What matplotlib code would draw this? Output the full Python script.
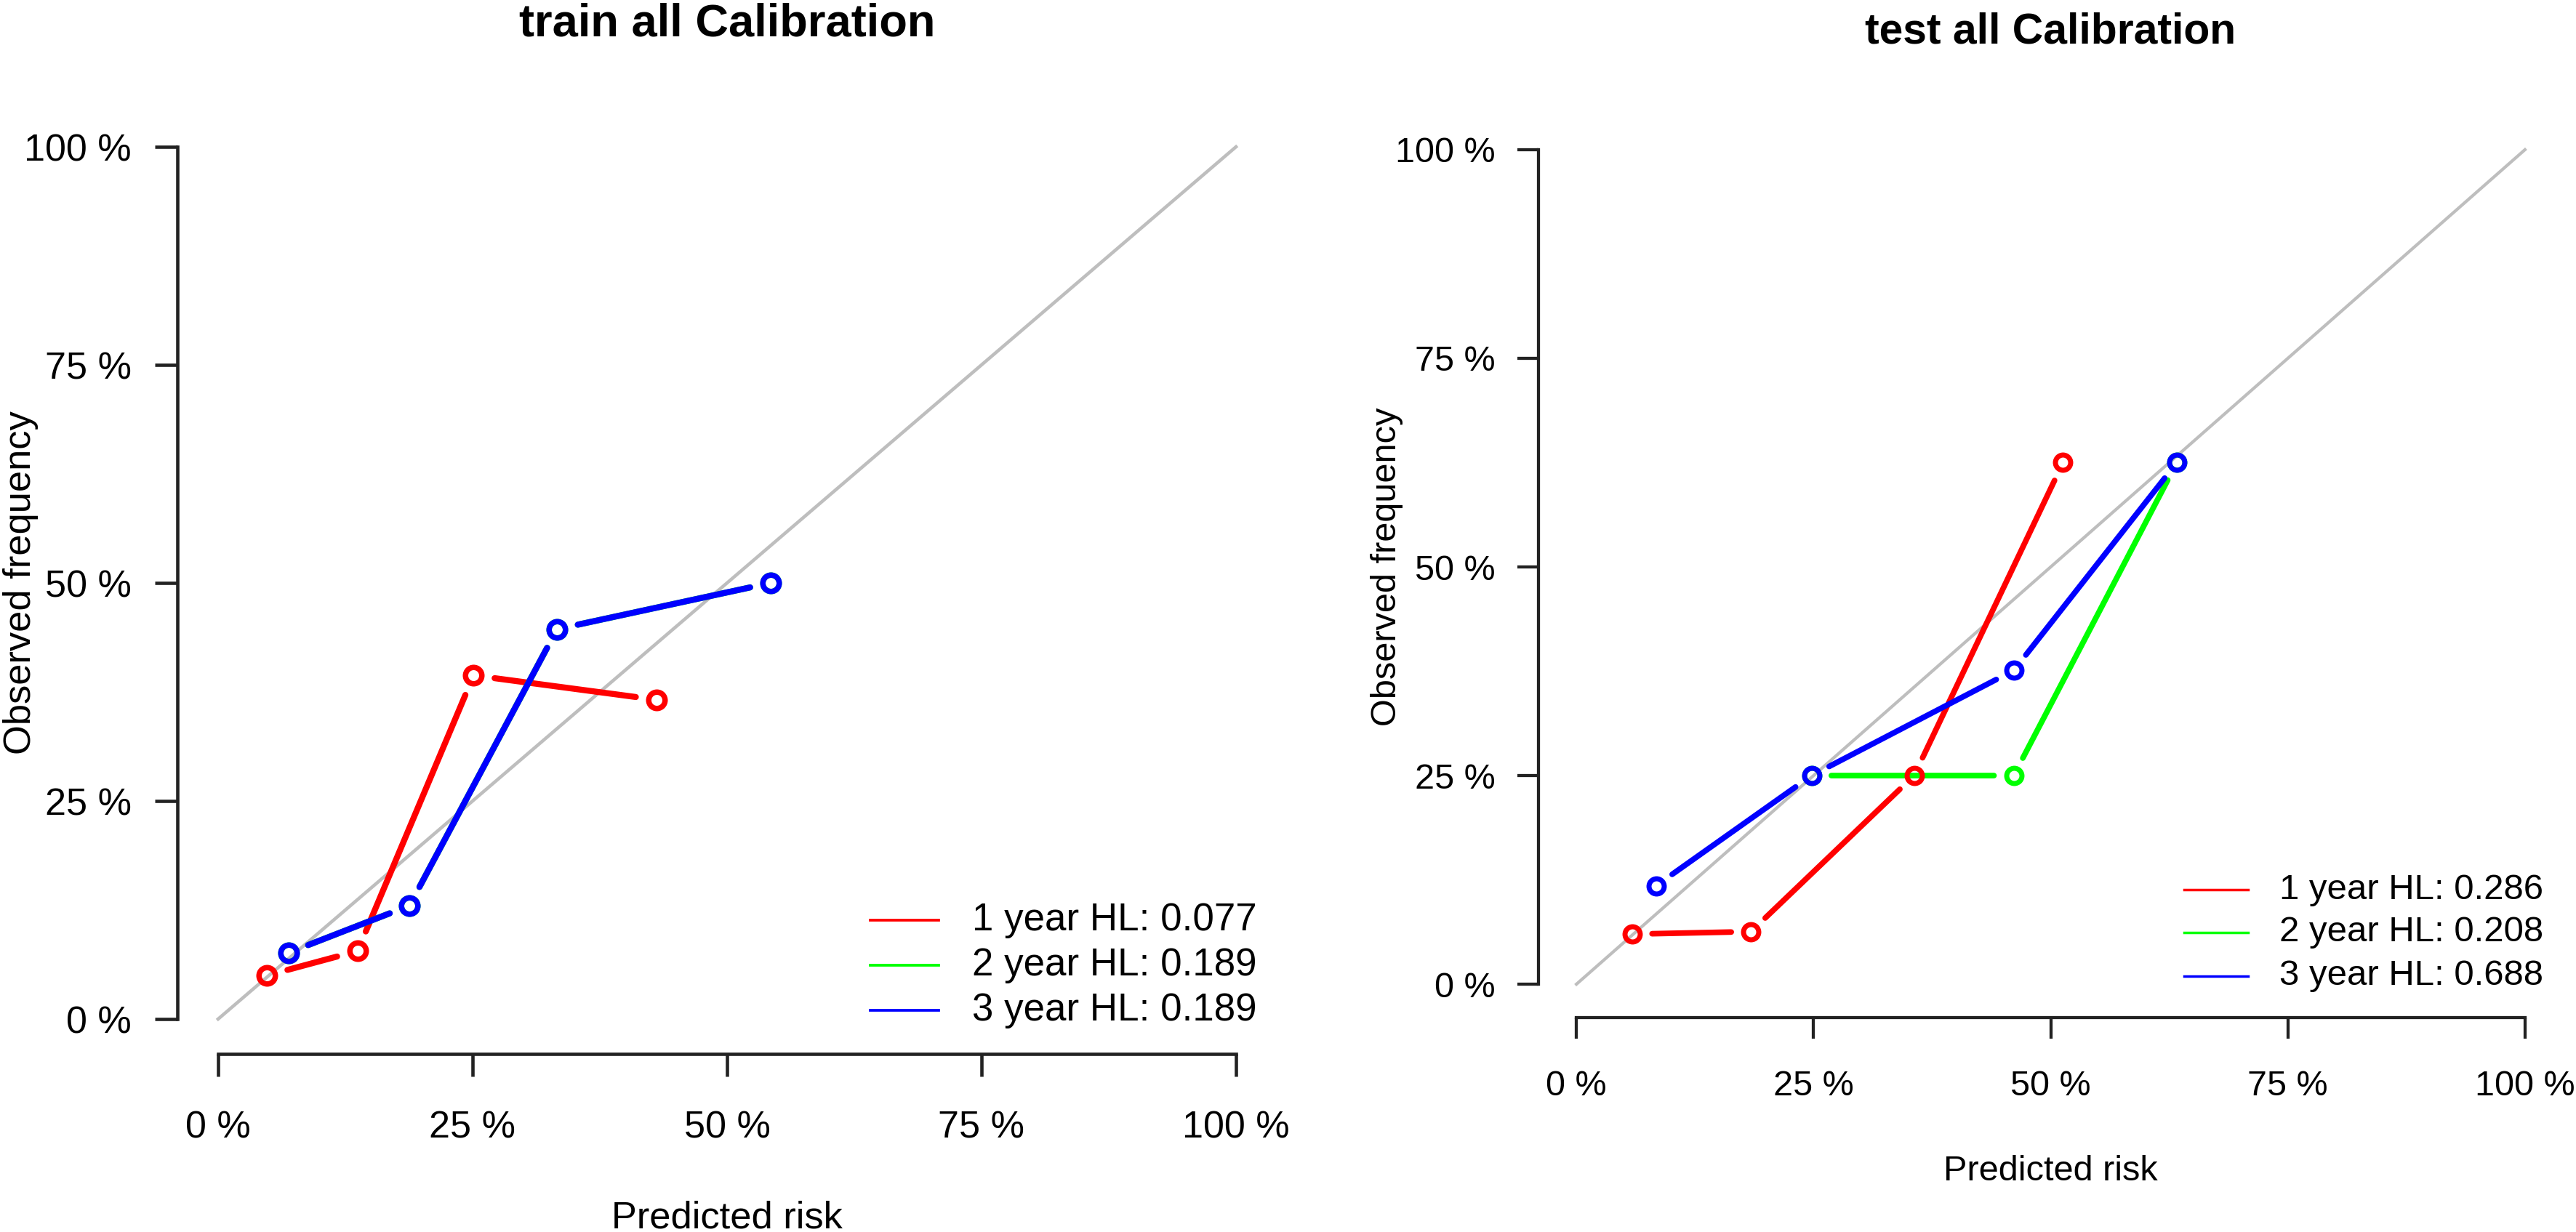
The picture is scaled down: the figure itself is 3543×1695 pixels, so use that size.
import matplotlib
matplotlib.use('Agg')
import matplotlib.pyplot as plt

plt.rcParams['font.family'] = ['Liberation Sans', 'DejaVu Sans']

W, H, DPI = 3543, 1695, 300

# axis ticks
ticks = [0, 0.25, 0.5, 0.75, 1.0]
tick_labels = ['0 %', '25 %', '50 %', '75 %', '100 %']
series = ['1 year', '2 year', '3 year']
colors = ['#FF0000', '#00FF00', '#0000FF']

# train set (2-year curve sits under the 3-year one)
train_x_1y = [0.048, 0.137, 0.251, 0.431]
train_y_1y = [0.050, 0.078, 0.394, 0.366]
train_x_2y = [0.069, 0.188, 0.333, 0.543]
train_y_2y = [0.076, 0.130, 0.447, 0.500]
train_x_3y = [0.069, 0.188, 0.333, 0.543]
train_y_3y = [0.076, 0.130, 0.447, 0.500]
train_hl = ['0.077', '0.189', '0.189']

# test set
test_x_1y = [0.059, 0.184, 0.356, 0.513]
test_y_1y = [0.060, 0.063, 0.250, 0.625]
test_x_2y = [0.248, 0.461, 0.633]
test_y_2y = [0.250, 0.250, 0.625]
test_x_3y = [0.084, 0.248, 0.461, 0.633]
test_y_3y = [0.118, 0.250, 0.376, 0.625]
test_hl = ['0.286', '0.208', '0.688']


def fx(x):
    return x / W


def fy(y):
    return 1 - y / H


def panel(fig, rect, title, xs, ys, hls, s, title_y, xlab_y, ylab_x):
    ax = fig.add_axes(rect)
    ax.set_xlim(-0.04, 1.04)
    ax.set_ylim(-0.04, 1.04)
    ax.plot([0, 1], [0, 1], color='#BEBEBE', lw=1.1 * s, zorder=1)

    for x, y, c in zip(xs, ys, colors):
        for i in range(len(x) - 1):
            ax.annotate('', xy=(x[i + 1], y[i + 1]), xytext=(x[i], y[i]),
                        arrowprops=dict(arrowstyle='-', color=c, lw=2.0 * s,
                                        shrinkA=7.0 * s, shrinkB=7.0 * s),
                        zorder=3)
        ax.plot(x, y, ls='none', marker='o', ms=5.4 * s, mew=1.8 * s,
                mfc='none', mec=c, zorder=4)

    # legend drawn like R's legend(): short lines and labels at lower right
    rows = [0.113, 0.062, 0.010]
    for name, hl, c, ry in zip(series, hls, colors, rows):
        ax.plot([0.641, 0.708], [ry, ry], color=c, lw=0.9 * s, zorder=2)
        ax.text(0.741, ry, f'{name} HL: {hl}', fontsize=12.7 * s,
                ha='left', va='center')

    for side in ['top', 'right']:
        ax.spines[side].set_visible(False)
    for side in ['left', 'bottom']:
        ax.spines[side].set_bounds(0, 1)
        ax.spines[side].set_linewidth(1.1 * s)
        ax.spines[side].set_color('#222222')
    ax.set_xticks(ticks)
    ax.set_xticklabels(tick_labels)
    ax.set_yticks(ticks)
    ax.set_yticklabels(tick_labels)
    ax.tick_params(axis='both', length=7.5 * s, width=1.1 * s, color='#222222',
                   labelsize=12.5 * s)
    ax.tick_params(axis='x', pad=11 * s)
    ax.tick_params(axis='y', pad=7.7 * s)

    # titles and axis labels
    pos = ax.get_position()
    cx = pos.x0 + pos.width * (0.04 + 0.5) / 1.08
    cy = pos.y0 + pos.height * (0.04 + 0.5) / 1.08
    fig.text(cx, fy(title_y), title, fontsize=15.2 * s, fontweight='bold',
             ha='center', va='baseline')
    fig.text(cx, fy(xlab_y), 'Predicted risk', fontsize=12.6 * s,
             ha='center', va='baseline')
    fig.text(fx(ylab_x), cy, 'Observed frequency', fontsize=12.6 * s,
             rotation=90, ha='center', va='center')
    return ax


fig = plt.figure(figsize=(W / DPI, H / DPI), dpi=DPI)

panel(fig, [fx(244), fy(1450), 1512 / W, 1296 / H], 'train all Calibration',
      [train_x_1y, train_x_2y, train_x_3y], [train_y_1y, train_y_2y, train_y_3y],
      train_hl, 1.0, 50, 1690, 29)

panel(fig, [fx(2116), fy(1400), 1409 / W, 1240 / H], 'test all Calibration',
      [test_x_1y, test_x_2y, test_x_3y], [test_y_1y, test_y_2y, test_y_3y],
      test_hl, 0.93, 60, 1624, 1907)

fig.savefig('out.png', dpi=DPI)
